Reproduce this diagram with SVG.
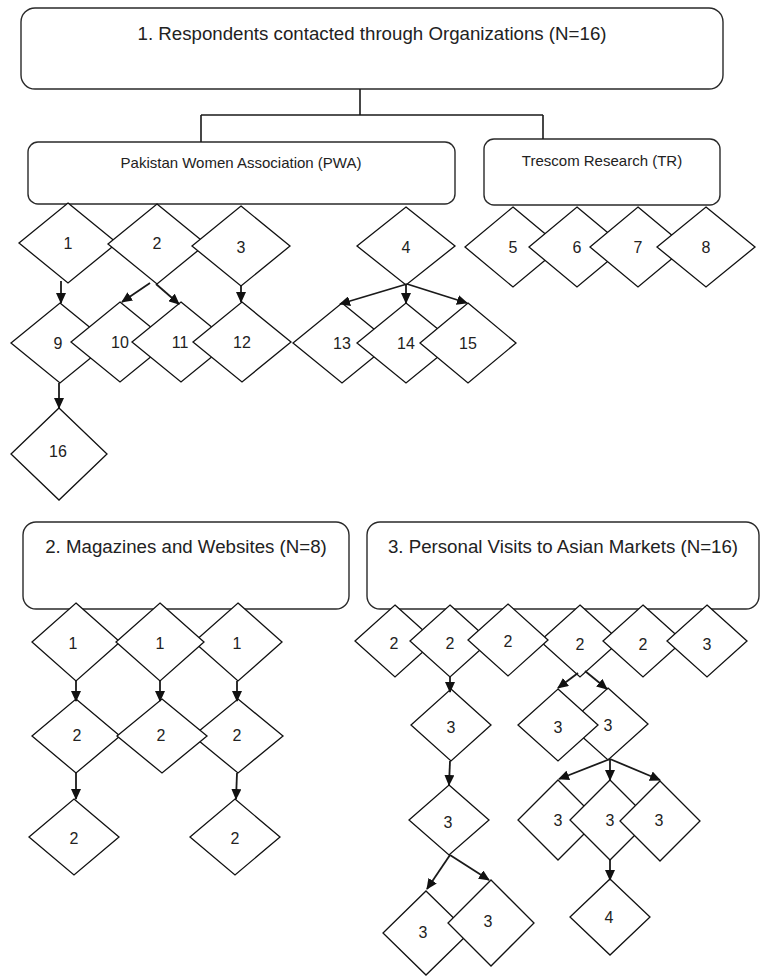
<svg xmlns="http://www.w3.org/2000/svg" width="761" height="976" viewBox="0 0 761 976">
<style>
.box{fill:#fff;stroke:#2a2a2a;stroke-width:1.4}
.d{fill:#fff;stroke:#111;stroke-width:1.3}
.t{font-family:"Liberation Sans",Arial,sans-serif;fill:#222;text-anchor:middle}
.h{font-size:18.7px}
.s{font-size:15px}
.n{font-size:16px;dominant-baseline:central}
.c{fill:none;stroke:#1a1a1a;stroke-width:1.6}
.a{fill:none;stroke:#1a1a1a;stroke-width:1.8;marker-end:url(#ah)}
</style>
<defs>
<marker id="ah" markerUnits="userSpaceOnUse" viewBox="0 0 11 10" refX="10" refY="5" markerWidth="11" markerHeight="10" orient="auto">
<path d="M0,0 L11,5 L0,10 z" fill="#111"/>
</marker>
</defs>
<rect width="761" height="976" fill="#fff"/>

<g id="box-organizations">
<rect class="box" x="21" y="8" width="702" height="81" rx="14"/>
<text class="t h" x="372" y="39.5">1. Respondents contacted through Organizations (N=16)</text>
</g>
<g id="box-pwa">
<rect class="box" x="28" y="142" width="427" height="62" rx="10"/>
<text class="t s" x="241" y="168">Pakistan Women Association (PWA)</text>
</g>
<g id="box-tr">
<rect class="box" x="484" y="139" width="236" height="66" rx="10"/>
<text class="t s" x="602" y="166">Trescom Research (TR)</text>
</g>
<g id="box-magazines">
<rect class="box" x="23" y="522" width="326" height="87" rx="13"/>
<text class="t h" x="186" y="553">2. Magazines and Websites (N=8)</text>
</g>
<g id="box-markets">
<rect class="box" x="367" y="522" width="392" height="87" rx="13"/>
<text class="t h" x="563" y="553">3. Personal Visits to Asian Markets (N=16)</text>
</g>

<!-- Section 1 diamonds -->
<g id="n1"><polygon class="d" points="68,203 117,243 68,283 19,243"/><text class="t n" x="68" y="243">1</text></g>
<g id="n2"><polygon class="d" points="157,204 206,244 157,284 108,244"/><text class="t n" x="157" y="243">2</text></g>
<g id="n3"><polygon class="d" points="241,206 290,246 241,286 192,246"/><text class="t n" x="241" y="247">3</text></g>
<g id="n4"><polygon class="d" points="406,207 455,246 406,285 357,246"/><text class="t n" x="406" y="247">4</text></g>
<g id="n5"><polygon class="d" points="513,207 561,247 513,287 465,247"/><text class="t n" x="513" y="247">5</text></g>
<g id="n6"><polygon class="d" points="577,207 625,247 577,287 529,247"/><text class="t n" x="577" y="247">6</text></g>
<g id="n7"><polygon class="d" points="638,207 686,247 638,287 590,247"/><text class="t n" x="638" y="247">7</text></g>
<g id="n8"><polygon class="d" points="706,207 755,247 706,287 657,247"/><text class="t n" x="706" y="247">8</text></g>
<g id="n9"><polygon class="d" points="60,303 109,343 60,383 11,343"/><text class="t n" x="58" y="343">9</text></g>
<g id="n10"><polygon class="d" points="120,302 169,342 120,382 71,342"/><text class="t n" x="120" y="342">10</text></g>
<g id="n11"><polygon class="d" points="181,302 230,342 181,382 132,342"/><text class="t n" x="180" y="342">11</text></g>
<g id="n12"><polygon class="d" points="242,302 291,342 242,382 193,342"/><text class="t n" x="242" y="342">12</text></g>
<g id="n13"><polygon class="d" points="342,303 391,343 342,383 293,343"/><text class="t n" x="342" y="343">13</text></g>
<g id="n14"><polygon class="d" points="406,303 455,343 406,383 357,343"/><text class="t n" x="406" y="343">14</text></g>
<g id="n15"><polygon class="d" points="468,303 516,343 468,383 420,343"/><text class="t n" x="468" y="343">15</text></g>
<g id="n16"><polygon class="d" points="59,408 107,454 59,500 11,454"/><text class="t n" x="58" y="451">16</text></g>

<!-- Section 2 diamonds -->
<g id="m-a1"><polygon class="d" points="76,603 120,642 76,681 32,642"/><text class="t n" x="73" y="643">1</text></g>
<g id="m-a3"><polygon class="d" points="238,603 282,642 238,681 194,642"/><text class="t n" x="237" y="643">1</text></g>
<g id="m-a2"><polygon class="d" points="160,603 204,642 160,681 116,642"/><text class="t n" x="160" y="643">1</text></g>
<g id="m-b1"><polygon class="d" points="76,699 120,736 76,773 32,736"/><text class="t n" x="77" y="735">2</text></g>
<g id="m-b3"><polygon class="d" points="238,699 283,736 238,773 193,736"/><text class="t n" x="237" y="735">2</text></g>
<g id="m-b2"><polygon class="d" points="162,699 207,736 162,773 117,736"/><text class="t n" x="161" y="735">2</text></g>
<g id="m-c1"><polygon class="d" points="74,799 119,837 74,875 29,837"/><text class="t n" x="74" y="838">2</text></g>
<g id="m-c3"><polygon class="d" points="235,799 280,837 235,875 190,837"/><text class="t n" x="235" y="838">2</text></g>

<!-- Section 3 diamonds -->
<g id="p-d1"><polygon class="d" points="395,605 435,641 395,677 355,641"/><text class="t n" x="394" y="643">2</text></g>
<g id="p-d2"><polygon class="d" points="450,605 490,641 450,677 410,641"/><text class="t n" x="450" y="643">2</text></g>
<g id="p-d4"><polygon class="d" points="580,605 620,641 580,677 540,641"/><text class="t n" x="580" y="644">2</text></g>
<g id="p-d3"><polygon class="d" points="508,604 548,640 508,676 468,640"/><text class="t n" x="508" y="641">2</text></g>
<g id="p-d5"><polygon class="d" points="643,605 683,641 643,677 603,641"/><text class="t n" x="643" y="644">2</text></g>
<g id="p-d6"><polygon class="d" points="707,605 747,641 707,677 667,641"/><text class="t n" x="707" y="644">3</text></g>
<g id="p-e1"><polygon class="d" points="451,689 491,725 451,761 411,725"/><text class="t n" x="451" y="727">3</text></g>
<g id="p-e2"><polygon class="d" points="449,785 489,820 449,855 409,820"/><text class="t n" x="448" y="822">3</text></g>
<g id="p-f1"><polygon class="d" points="426,891 469,933 426,975 383,933"/><text class="t n" x="423" y="932">3</text></g>
<g id="p-f2"><polygon class="d" points="491,880 534,923 491,966 448,923"/><text class="t n" x="488" y="921">3</text></g>
<g id="p-g2"><polygon class="d" points="608,688 648,724 608,760 568,724"/><text class="t n" x="608" y="725">3</text></g>
<g id="p-g1"><polygon class="d" points="558,689 598,725 558,761 518,725"/><text class="t n" x="558" y="727">3</text></g>
<g id="p-h1"><polygon class="d" points="558,780 598,820 558,860 518,820"/><text class="t n" x="558" y="820">3</text></g>
<g id="p-h2"><polygon class="d" points="610,780 650,820 610,860 570,820"/><text class="t n" x="610" y="820">3</text></g>
<g id="p-h3"><polygon class="d" points="660,781 700,821 660,861 620,821"/><text class="t n" x="659" y="820">3</text></g>
<g id="p-i"><polygon class="d" points="610,879 650,917 610,955 570,917"/><text class="t n" x="609" y="917">4</text></g>

<g id="connectors">
<path class="c" d="M360,89 V115 M201,115 H543 M201,115 V142 M543,115 V139"/>
<line class="a" x1="61" y1="281" x2="61" y2="303"/>
<line class="a" x1="150" y1="283" x2="122" y2="302"/>
<line class="a" x1="156" y1="284" x2="179" y2="304"/>
<line class="a" x1="241" y1="286" x2="241" y2="302"/>
<line class="a" x1="407" y1="284" x2="340" y2="304"/>
<line class="a" x1="406" y1="284" x2="406" y2="303"/>
<line class="a" x1="407" y1="284" x2="467" y2="303"/>
<line class="a" x1="59" y1="383" x2="59" y2="408"/>
<line class="a" x1="76" y1="681" x2="76" y2="701"/>
<line class="a" x1="160" y1="681" x2="160" y2="701"/>
<line class="a" x1="237" y1="681" x2="237" y2="701"/>
<line class="a" x1="76" y1="773" x2="76" y2="799"/>
<line class="a" x1="237" y1="773" x2="236" y2="799"/>
<line class="a" x1="450" y1="676" x2="450" y2="692"/>
<line class="a" x1="450" y1="761" x2="449" y2="785"/>
<line class="a" x1="450" y1="855" x2="427" y2="889"/>
<line class="a" x1="450" y1="855" x2="489" y2="880"/>
<line class="a" x1="578" y1="673" x2="558" y2="688"/>
<line class="a" x1="585" y1="671" x2="607" y2="689"/>
<line class="a" x1="610" y1="759" x2="559" y2="779"/>
<line class="a" x1="610" y1="759" x2="610" y2="780"/>
<line class="a" x1="610" y1="759" x2="660" y2="780"/>
<line class="a" x1="610" y1="860" x2="610" y2="880"/>
</g>
</svg>
